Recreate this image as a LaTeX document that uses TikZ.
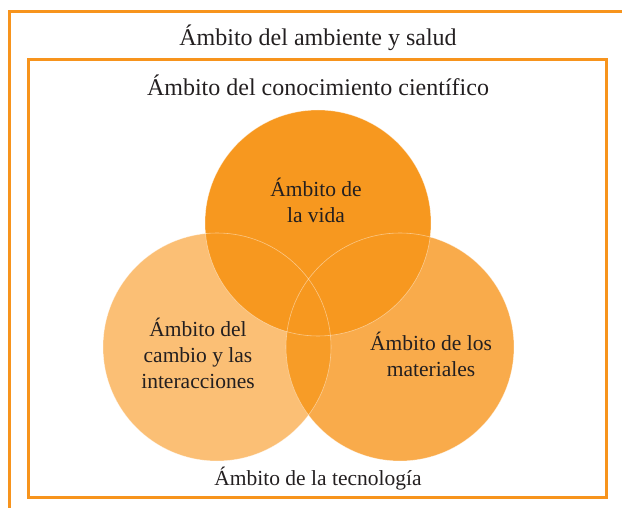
\documentclass[tikz,border=0pt]{standalone}
\usepackage{fontspec}
\setmainfont{Liberation Serif}
\definecolor{frameor}{HTML}{F7941D}
\definecolor{topor}{HTML}{F7981F}
\definecolor{leftor}{HTML}{FBBF75}
\definecolor{rightor}{HTML}{F9AB4B}
\definecolor{lensor}{HTML}{F79C27}
\definecolor{txt}{HTML}{231F20}
\begin{document}
\begin{tikzpicture}[x=1pt,y=-1pt,
  lbl/.style={font=\fontsize{21.5}{26}\selectfont, text=txt, align=center, inner sep=0pt},
  title/.style={lbl, font=\fontsize{24}{28}\selectfont},
  framebox/.style={draw=frameor, line width=3pt},
  seam/.style={draw=white, draw opacity=0.45, line width=0.6pt}]
\useasboundingbox (0,0) rectangle (622,508);
% outer frame (extends beyond the page at right and bottom)
\coordinate (oTR) at (640,11.5);
\coordinate (oTL) at (9.5,11.5);
\coordinate (oBL) at (9.5,530);
\draw[framebox] (oTR) -- (oTL) -- (oBL);
% inner frame
\coordinate (iTL) at (28.5,59.5);
\coordinate (iBR) at (606.5,497.8);
\draw[framebox] (iTL) rectangle (iBR);
% circles
\coordinate (cT) at (318,223);
\coordinate (cL) at (217,347);
\coordinate (cR) at (400,347);
\fill[leftor] (cL) circle[radius=114pt];
\fill[rightor] (cR) circle[radius=114pt];
\begin{scope}
  \clip (cL) circle[radius=114pt];
  \fill[lensor] (cR) circle[radius=114pt];
\end{scope}
\fill[topor] (cT) circle[radius=113pt];
\draw[seam] (cL) circle[radius=114pt];
\draw[seam] (cR) circle[radius=114pt];
\draw[seam] (cT) circle[radius=113pt];
% labels
\node[title] (tAmb) at (318,38) {Ámbito del ambiente y salud};
\node[title] (tCon) at (318,85) {Ámbito del conocimiento científico};
\node[lbl] (tVida) at (316,200) {Ámbito de\\la vida};
\node[lbl] (tCam) at (198,353) {Ámbito del\\cambio y las\\interacciones};
\node[lbl] (tMat) at (431,354) {Ámbito de los\\materiales};
\node[lbl] (tTec) at (318,479) {Ámbito de la tecnología};
\end{tikzpicture}
\end{document}
